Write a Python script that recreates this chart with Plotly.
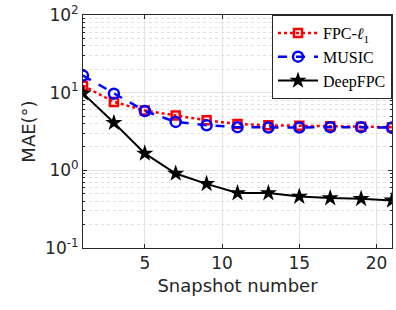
import plotly.graph_objects as go

snapshots = [1, 3, 5, 7, 9, 11, 13, 15, 17, 19, 21]
fpc_l1 = [12.3, 7.6, 5.9, 5.1, 4.4, 3.95, 3.8, 3.75, 3.7, 3.65, 3.6]
music = [16.6, 9.7, 5.8, 4.2, 3.8, 3.6, 3.55, 3.55, 3.6, 3.6, 3.55]
deepfpc = [9.8, 4.1, 1.65, 0.91, 0.67, 0.51, 0.51, 0.46, 0.44, 0.43, 0.41]

y_tickvals = [0.1, 1, 10, 100]
y_ticktext = ["10<sup>-1</sup>", "10<sup>0</sup>", "10<sup>1</sup>", "10<sup>2</sup>"]
x_tickvals = [5, 10, 15, 20]

fig = go.Figure()
fig.add_trace(go.Scatter(
    x=snapshots, y=fpc_l1, name="FPC-<i>ℓ</i><sub>1</sub>", mode="lines+markers",
    line=dict(color="#ff0000", width=2.5, dash="dot"),
    marker=dict(symbol="square-open", size=8, color="#ff0000", line=dict(width=2.5)),
))
fig.add_trace(go.Scatter(
    x=snapshots, y=music, name="MUSIC", mode="lines+markers",
    line=dict(color="#0000ff", width=2.5, dash="dash"),
    marker=dict(symbol="circle-open", size=10, color="#0000ff", line=dict(width=2.5)),
))
fig.add_trace(go.Scatter(
    x=snapshots, y=deepfpc, name="DeepFPC", mode="lines+markers",
    line=dict(color="#000000", width=2),
    marker=dict(symbol="star", size=13, color="#000000"),
))

fig.update_layout(
    width=396, height=310,
    margin=dict(l=83, r=3, t=13, b=62),
    paper_bgcolor="white", plot_bgcolor="white",
    font=dict(family="DejaVu Sans, sans-serif", size=17, color="#262626"),
    showlegend=True,
    legend=dict(
        x=1, y=1, xanchor="right", yanchor="top",
        bgcolor="white", bordercolor="#262626", borderwidth=1,
        font=dict(family="Liberation Serif, DejaVu Serif, serif", size=16, color="#000000"),
        tracegroupgap=0, itemwidth=40,
    ),
)
fig.update_xaxes(
    range=[1, 21], tickvals=x_tickvals,
    showgrid=True, gridcolor="#e3e3e3", gridwidth=1,
    showline=True, linecolor="#262626", linewidth=1, mirror="ticks",
    ticks="inside", ticklen=4, tickcolor="#262626",
    zeroline=False,
    title=dict(text="Snapshot number", font=dict(size=18), standoff=6),
)
fig.update_yaxes(
    type="log", range=[-1, 2], tickvals=y_tickvals, ticktext=y_ticktext,
    showgrid=True, gridcolor="#e3e3e3", gridwidth=1,
    showline=True, linecolor="#262626", linewidth=1, mirror="ticks",
    ticks="inside", ticklen=4, tickcolor="#262626",
    minor=dict(dtick="D1", showgrid=True, gridcolor="#e0e0e0", griddash="dot",
               ticks="inside", ticklen=2, tickcolor="#262626"),
    zeroline=False,
    title=dict(text="MAE(°)", font=dict(size=18), standoff=4),
)

fig.write_html("out.html", config={"displayModeBar": False},
               post_script="document.body.style.margin='0';")
